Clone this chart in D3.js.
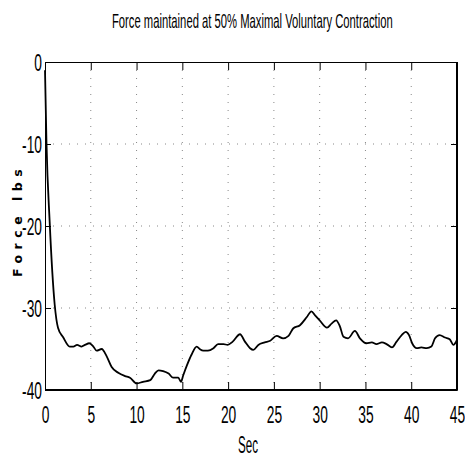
<!DOCTYPE html>
<html>
<head>
<meta charset="utf-8">
<script src="https://cdn.jsdelivr.net/npm/d3@7"></script>
<style>
	body { margin: 0; background: #fff; }
	svg { display: block; }
	.axis path, .axis line { stroke: #000; }
	.grid line { stroke: #888; stroke-dasharray: 1,7; }
</style>
</head>
<body>
<svg></svg>
<script>
const width = 465,
	height = 457,
	plotLeft = 45,
	plotRight = 457,
	plotTop = 62,
	plotBottom = 390;

// seconds and force (lbs)
const seconds = [ 0, 0.16, 0.51, 1.06, 1.42, 2.0, 2.7, 3.1, 3.5, 4.0, 4.37, 4.84, 5.28, 5.64, 6.19, 6.74, 7.28, 8.0, 8.74, 9.28, 10.0, 10.7, 11.5, 12.0, 12.4, 12.9, 13.5, 14.0, 14.56, 14.85, 15.1, 15.5, 16.0, 16.57, 16.9, 17.3, 17.8, 18.4, 18.9, 19.5, 19.95, 20.5, 21.3, 21.84, 22.4, 22.75, 23.3, 24.0, 24.6, 25.3, 26.0, 26.6, 27.1, 27.85, 28.6, 29.1, 29.5, 30.0, 30.8, 31.3, 31.8, 32.2, 32.6, 33.1, 33.85, 34.4, 35.1, 35.7, 36.2, 36.8, 37.3, 37.9, 38.4, 38.96, 39.4, 39.76, 40.1, 40.6, 41.1, 41.7, 42.2, 42.6, 43.1, 43.7, 44.2, 44.6, 45.0 ];
const force = [ -1, -9.8, -19.5, -29.6, -32.4, -33.6, -34.7, -34.7, -34.5, -34.7, -34.5, -34.3, -34.7, -35.2, -35.0, -35.9, -37.2, -37.9, -38.3, -38.5, -39.2, -39.0, -38.8, -38.0, -37.6, -37.7, -38.0, -38.5, -38.5, -39.0, -38.2, -37.0, -35.7, -34.7, -35.0, -35.2, -35.2, -34.9, -34.4, -34.4, -34.5, -34.1, -33.2, -34.1, -34.9, -35.1, -34.5, -34.2, -34.0, -33.4, -33.7, -33.4, -32.5, -32.1, -31.1, -30.4, -30.9, -31.5, -32.4, -31.9, -31.5, -32.2, -33.5, -33.7, -32.8, -33.7, -34.3, -34.2, -34.4, -34.2, -34.4, -34.8, -34.1, -33.3, -32.9, -33.3, -34.3, -34.9, -34.8, -34.9, -34.7, -33.7, -33.3, -33.6, -33.8, -34.5, -33.9 ];
const xTicks = [ 0, 5, 10, 15, 20, 25, 30, 35, 40, 45 ];
const yTicks = [ 0, -10, -20, -30, -40 ];

const title = 'Force maintained at 50% Maximal Voluntary Contraction';
const xLabel = 'Sec';
const yLabel = 'Force lbs';

const narrow = '"Liberation Sans Narrow", "Arial Narrow", "Liberation Sans", sans-serif';
const squeeze = 0.6;

let svg = d3.select('svg').attr('width', width).attr('height', height);

let xScale = d3.scaleLinear().domain([ 0, 45 ]).range([ plotLeft, plotRight ]);
let yScale = d3.scaleLinear().domain([ -40, 0 ]).range([ plotBottom, plotTop ]);

// dotted grid (barely survives in the scan)
let grid = svg.append('g').attr('class', 'grid');
grid
	.selectAll('line.v')
	.data(xTicks.slice(1, -1))
	.enter()
	.append('line')
	.attr('x1', (d) => xScale(d))
	.attr('x2', (d) => xScale(d))
	.attr('y1', plotTop)
	.attr('y2', plotBottom);
grid
	.selectAll('line.h')
	.data(yTicks.slice(1, -1))
	.enter()
	.append('line')
	.attr('x1', plotLeft)
	.attr('x2', plotRight)
	.attr('y1', (d) => yScale(d))
	.attr('y2', (d) => yScale(d));

// axes, ticks pointing inward like matlab; plain hyphen for minus
let xAxis = d3.axisBottom(xScale).tickValues(xTicks).tickSize(-8).tickSizeOuter(0).tickFormat((d) => String(d));
let yAxis = d3.axisLeft(yScale).tickValues(yTicks).tickSize(-6).tickSizeOuter(0).tickFormat((d) => String(d));

let gx = svg.append('g').attr('class', 'axis').attr('transform', 'translate(0,' + plotBottom + ')').call(xAxis);
gx
	.selectAll('text')
	.attr('font-family', narrow)
	.attr('font-size', 23)
	.attr('fill', '#000')
	.attr('y', 33)
	.attr('dy', 0)
	.attr('transform', 'scale(' + squeeze + ',1)');

let gy = svg.append('g').attr('class', 'axis').attr('transform', 'translate(' + plotLeft + ',0)').call(yAxis);
gy
	.selectAll('text')
	.attr('font-family', narrow)
	.attr('font-size', 23)
	.attr('fill', '#000')
	.attr('x', -3 / squeeze)
	.attr('dy', '0.36em')
	.attr('transform', 'scale(' + squeeze + ',1)');

svg
	.append('g')
	.attr('class', 'axis')
	.attr('transform', 'translate(0,' + plotTop + ')')
	.call(d3.axisTop(xScale).tickValues(xTicks).tickSize(-8).tickSizeOuter(0).tickFormat(''));
svg
	.append('g')
	.attr('class', 'axis')
	.attr('transform', 'translate(' + plotRight + ',0)')
	.call(d3.axisRight(yScale).tickValues(yTicks).tickSize(-6).tickSizeOuter(0).tickFormat(''));

// heavier right and bottom edges as in the scan
svg
	.append('line')
	.attr('x1', plotRight)
	.attr('x2', plotRight)
	.attr('y1', plotTop)
	.attr('y2', plotBottom)
	.attr('stroke', '#000')
	.attr('stroke-width', 2);
svg
	.append('line')
	.attr('x1', plotLeft)
	.attr('x2', plotRight)
	.attr('y1', plotBottom)
	.attr('y2', plotBottom)
	.attr('stroke', '#000')
	.attr('stroke-width', 2);

let line = d3
	.line()
	.x((d, i) => xScale(seconds[i]))
	.y((d) => yScale(d))
	.curve(d3.curveMonotoneX);

svg
	.append('path')
	.datum(force)
	.attr('d', line)
	.attr('fill', 'none')
	.attr('stroke', '#000')
	.attr('stroke-width', 1.8)
	.attr('stroke-linejoin', 'round');

// condensed title: squeeze to the width seen in the scan
let titleText = svg
	.append('text')
	.attr('font-family', narrow)
	.attr('font-size', 21)
	.text(title);
let titleScale = 281 / titleText.node().getComputedTextLength();
titleText.attr('transform', 'translate(112,28) scale(' + titleScale + ',1)');

let secText = svg
	.append('text')
	.attr('font-family', narrow)
	.attr('font-size', 24)
	.text(xLabel);
let secScale = 20 / secText.node().getComputedTextLength();
secText.attr('transform', 'translate(238,453) scale(' + secScale + ',1)');

svg
	.append('text')
	.attr('transform', 'rotate(-90)')
	.attr('x', -277)
	.attr('y', 22)
	.attr('font-family', '"DejaVu Sans", sans-serif')
	.attr('font-weight', 'bold')
	.attr('font-size', 12.5)
	.attr('letter-spacing', 5.5)
	.text(yLabel);
</script>
</body>
</html>
